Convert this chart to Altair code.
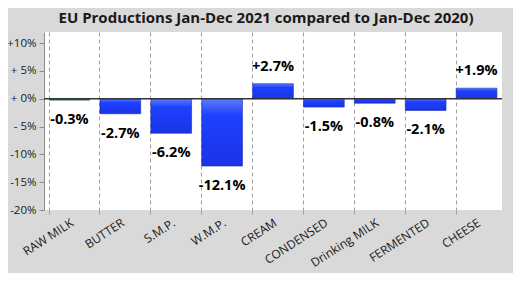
import altair as alt
import pandas as pd

categories = ["RAW MILK", "BUTTER", "S.M.P.", "W.M.P.", "CREAM", "CONDENSED",
              "Drinking MILK", "FERMENTED", "CHEESE"]
values = [-0.3, -2.7, -6.2, -12.1, 2.7, -1.5, -0.8, -2.1, 1.9]
labels = ["-0.3%", "-2.7%", "-6.2%", "-12.1%", "+2.7%", "-1.5%", "-0.8%", "-2.1%", "+1.9%"]
y_ticks = [-20, -15, -10, -5, 0, 5, 10]
y_tick_labels = ["-20%", "-15%", "-10%", "- 5%", "+ 0%", "+ 5%", "+10%"]

df = pd.DataFrame({"cat": categories, "val": values, "lab": labels,
                   "first": [i == 0 for i in range(len(categories))]})

label_map = "{" + ",".join(f"'{v}':'{t}'" for v, t in zip(y_ticks, y_tick_labels)) + "}"

FONT = "Open Sans"

x_enc = alt.X("cat:N", sort=categories, title=None,
              scale=alt.Scale(paddingInner=0.2, paddingOuter=0.1),
              axis=alt.Axis(bandPosition=0, grid=True, gridDash=[4, 3], gridColor="#a0a0a0",
                            gridWidth=1, domain=False, ticks=True, tickSize=4, tickColor="#a0a0a0",
                            labelAngle=-33, labelAlign="right", labelBaseline="top",
                            labelFont=FONT, labelFontSize=12, labelColor="#1a1a1a",
                            labelPadding=3, labelOverlap=False, labelBound=False))
y_scale = alt.Scale(domain=[-20, 12], nice=False, zero=False)
y_enc = alt.Y("val:Q", scale=y_scale, title=None,
              axis=alt.Axis(values=y_ticks, grid=False, domain=True, domainColor="#8c8c8c",
                            ticks=True, tickSize=5, tickColor="#8c8c8c",
                            labelExpr=f"{label_map}[datum.value]", labelOverlap=False,
                            labelFont=FONT, labelFontSize=11.5, labelColor="#1a1a1a",
                            labelPadding=3))

base = alt.Chart(df)

blue_grad = alt.Gradient(gradient="linear", x1=0, y1=0, x2=0, y2=1,
                         stops=[alt.GradientStop(offset=0, color="#5a7dff"),
                                alt.GradientStop(offset=0.25, color="#1f40ff"),
                                alt.GradientStop(offset=1, color="#1a33e6")])

bars_blue = base.transform_filter("!datum.first").mark_bar(
    color=blue_grad, stroke="#1628b0", strokeWidth=0.6
).encode(x=x_enc, y=y_enc, y2=alt.datum(0))

bars_green = base.transform_filter("datum.first").mark_bar(
    color="#2d6a46"
).encode(x=x_enc, y=y_enc, y2=alt.datum(0))

zero = alt.Chart(pd.DataFrame({"val": [0]})).mark_rule(color="#333333", strokeWidth=1.5).encode(
    y=y_enc)

text_neg = base.transform_filter("datum.val < 0").mark_text(
    font=FONT, fontSize=14.5, fontWeight="bold", color="#000000", dy=20, baseline="middle"
).encode(x=x_enc, y=y_enc, text="lab:N")

text_pos = base.transform_filter("datum.val >= 0").mark_text(
    font=FONT, fontSize=14.5, fontWeight="bold", color="#000000", dy=-17, baseline="middle"
).encode(x=x_enc, y=y_enc, text="lab:N")

chart = alt.layer(bars_blue, bars_green, zero, text_neg, text_pos).properties(
    width=458, height=178,
    title=alt.TitleParams("EU Productions  Jan-Dec  2021 compared  to Jan-Dec  2020)",
                          font=FONT, fontSize=15, fontWeight="bold", color="#1a1a1a",
                          anchor="middle", offset=6, dx=-7),
    autosize=alt.AutoSizeParams(type="none"),
    padding={"left": 36, "top": 24, "right": 11, "bottom": 63},
    background="#d9d9d9",
).configure_view(fill="white", stroke=None)

chart.save("out.html", embed_options={"renderer": "svg", "actions": False})
